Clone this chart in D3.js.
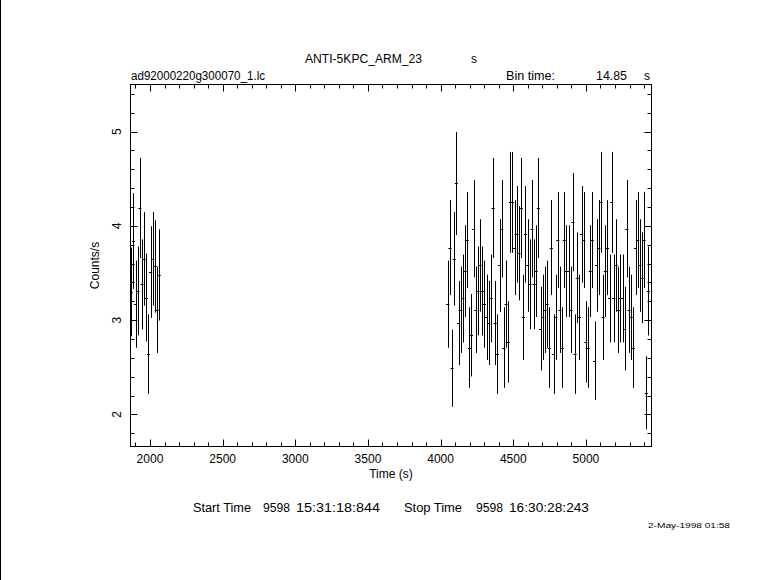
<!DOCTYPE html>
<html>
<head>
<meta charset="utf-8">
<script src="https://cdn.jsdelivr.net/npm/d3@7"></script>
<style>
  html, body { margin: 0; padding: 0; background: #fff; }
  svg { display: block; }
  text { font-family: "Liberation Sans", Arial, sans-serif; fill: #000; }
</style>
</head>
<body>
<svg id="chart" width="781" height="580"></svg>
<script>
// ---- data ----
const binTime = 14.85;
const leftTimes = [1871.0, 1885.9, 1900.7, 1915.6, 1930.4, 1945.3, 1960.1, 1975.0, 1989.8, 2004.7, 2019.5, 2034.4, 2049.2, 2064.1];
const leftRates = [3.30, 3.84, 3.17, 3.31, 4.19, 3.38, 3.65, 3.24, 2.64, 3.51, 3.65, 3.57, 3.11, 3.48];
const leftErrors = [0.471, 0.508, 0.462, 0.472, 0.531, 0.477, 0.496, 0.467, 0.422, 0.486, 0.496, 0.490, 0.458, 0.484];

const rightTimes = [4049.0, 4063.9, 4078.7, 4093.6, 4108.4, 4123.3, 4138.1, 4153.0, 4167.8, 4182.7,
  4197.5, 4212.4, 4227.2, 4242.1, 4256.9, 4271.8, 4286.6, 4301.5, 4316.3, 4331.2,
  4346.0, 4360.9, 4375.7, 4390.6, 4405.4, 4420.3, 4435.1, 4450.0, 4464.8, 4479.7,
  4494.5, 4509.4, 4524.2, 4539.1, 4553.9, 4568.8, 4583.6, 4598.5, 4613.3, 4628.2,
  4643.0, 4657.9, 4672.7, 4687.6, 4702.4, 4717.3, 4732.1, 4747.0, 4761.8, 4776.7,
  4791.5, 4806.4, 4821.2, 4836.1, 4850.9, 4865.8, 4880.6, 4895.5, 4910.3, 4925.2,
  4940.0, 4954.9, 4969.7, 4984.6, 4999.4, 5014.3, 5029.1, 5044.0, 5058.8, 5073.7,
  5088.5, 5103.4, 5118.2, 5133.1, 5147.9, 5162.8, 5177.6, 5192.5, 5207.3, 5222.2,
  5237.0, 5251.9, 5266.7, 5281.6, 5296.4, 5311.3, 5326.1, 5341.0, 5355.8, 5370.7,
  5385.5, 5400.4, 5415.2, 5430.1];
const rightRates = [3.17, 3.77, 2.49, 3.65, 4.45, 2.97, 3.11, 3.23, 3.52, 3.85,
  2.71, 2.84, 3.97, 3.11, 3.31, 3.58, 3.31, 3.17, 3.03, 2.97,
  3.23, 4.19, 2.97, 2.64, 3.58, 3.97, 2.71, 3.17, 2.77, 4.25,
  4.25, 3.77, 3.91, 3.71, 4.19, 3.03, 3.91, 3.58, 3.38, 3.97,
  3.38, 3.52, 4.19, 2.91, 3.03, 3.11, 3.17, 2.71, 3.77, 2.64,
  3.03, 3.85, 3.11, 2.71, 3.85, 3.52, 3.52, 3.11, 4.04, 2.64,
  3.45, 3.03, 3.91, 3.85, 2.77, 2.71, 3.52, 3.85, 2.57, 3.58,
  3.77, 4.25, 3.03, 3.52, 3.77, 3.23, 4.25, 3.23, 3.58, 3.11,
  3.23, 3.23, 2.91, 3.97, 3.11, 3.03, 2.71, 3.77, 3.85, 3.58,
  3.45, 3.85, 2.23, 3.31];
const rightErrors = [0.462, 0.504, 0.409, 0.496, 0.547, 0.447, 0.458, 0.466, 0.487, 0.509,
  0.427, 0.437, 0.517, 0.458, 0.472, 0.491, 0.472, 0.462, 0.452, 0.447,
  0.466, 0.531, 0.447, 0.422, 0.491, 0.517, 0.427, 0.462, 0.432, 0.535,
  0.535, 0.504, 0.513, 0.500, 0.531, 0.452, 0.513, 0.491, 0.477, 0.517,
  0.477, 0.487, 0.531, 0.443, 0.452, 0.458, 0.462, 0.427, 0.504, 0.422,
  0.452, 0.509, 0.458, 0.427, 0.509, 0.487, 0.487, 0.458, 0.522, 0.422,
  0.482, 0.452, 0.513, 0.509, 0.432, 0.427, 0.487, 0.509, 0.416, 0.491,
  0.504, 0.535, 0.452, 0.487, 0.504, 0.466, 0.535, 0.466, 0.491, 0.458,
  0.466, 0.466, 0.443, 0.517, 0.458, 0.452, 0.427, 0.504, 0.509, 0.491,
  0.482, 0.509, 0.388, 0.472];

const xDomain = [1866, 5451];
const yDomain = [1.66, 5.5];
const xMajorTicks = [2000, 2500, 3000, 3500, 4000, 4500, 5000];
const yMajorTicks = [2, 3, 4, 5];

const titleText = "ANTI-5KPC_ARM_23";
const fileText = "ad92000220g300070_1.lc";
const binLabel = "Bin time:";
const binValue = "14.85";
const xLabel = "Time (s)";
const yLabel = "Counts/s";
const footerParts = ["Start Time", "9598", "15:31:18:844", "Stop Time", "9598", "16:30:28:243"];
const dateText = "2-May-1998 01:58";

// ---- drawing ----
const svg = d3.select("#chart");
const L = 130.5, R = 651.5, T = 84.5, B = 446.5;
const x = d3.scaleLinear().domain(xDomain).range([L, R]);
const y = d3.scaleLinear().domain(yDomain).range([B, T]);

// left page border line
svg.append("line").attr("x1", 0.5).attr("x2", 0.5).attr("y1", 0).attr("y2", 580)
  .attr("stroke", "#000").attr("stroke-width", 1);

const g = svg.append("g");

// frame
g.append("rect").attr("x", L).attr("y", T).attr("width", R - L).attr("height", B - T)
  .attr("fill", "none").attr("stroke", "#000").attr("stroke-width", 1);

// ticks (inward, all four sides)
const xMinor = d3.range(1900, 5451, 100).filter(v => v % 500 !== 0);
const yMinor = d3.range(1.8, 5.5, 0.2).map(v => Math.round(v * 10) / 10).filter(v => Math.abs(v - Math.round(v)) > 1e-6);

function xTicks(vals, len) {
  vals.forEach(v => {
    const px = Math.round(x(v)) + 0.5;
    g.append("line").attr("x1", px).attr("x2", px).attr("y1", B).attr("y2", B - len).attr("stroke", "#000");
    g.append("line").attr("x1", px).attr("x2", px).attr("y1", T).attr("y2", T + len).attr("stroke", "#000");
  });
}
function yTicks(vals, len) {
  vals.forEach(v => {
    const py = Math.round(y(v)) + 0.5;
    g.append("line").attr("x1", L).attr("x2", L + len).attr("y1", py).attr("y2", py).attr("stroke", "#000");
    g.append("line").attr("x1", R).attr("x2", R - len).attr("y1", py).attr("y2", py).attr("stroke", "#000");
  });
}
xTicks(xMajorTicks, 7);
xTicks(xMinor, 4);
yTicks(yMajorTicks, 7);
yTicks(yMinor, 4);

// tick labels
g.selectAll("text.xt").data(xMajorTicks).enter().append("text")
  .attr("x", d => x(d)).attr("y", 463).attr("text-anchor", "middle")
  .attr("font-size", 12).text(d => d);
g.selectAll("text.yt").data(yMajorTicks).enter().append("text")
  .attr("transform", d => `translate(121,${y(d)}) rotate(-90)`)
  .attr("text-anchor", "middle").attr("font-size", 12).text(d => d);

// axis labels
svg.append("text").attr("x", (L + R) / 2).attr("y", 478).attr("text-anchor", "middle")
  .attr("font-size", 12).text(xLabel);
svg.append("text").attr("transform", `translate(99,${(T + B) / 2}) rotate(-90)`)
  .attr("text-anchor", "middle").attr("font-size", 12).text(yLabel);

// header texts
function txt(s, px, py, len, size) {
  const t = svg.append("text").attr("x", px).attr("y", py).attr("font-size", size || 12).text(s);
  if (len) t.attr("textLength", len).attr("lengthAdjust", "spacingAndGlyphs");
  return t;
}
txt(titleText, 305, 63, 117);
txt("s", 471, 63);
txt(fileText, 131, 80, 134);
txt(binLabel, 506, 80, 49);
txt(binValue, 596, 80, 31);
txt("s", 644, 80);

// footer texts
const footerX = [193, 263, 296, 404, 476, 509];
const footerW = [58, 27, 84, 58, 27, 80];
footerParts.forEach((s, i) => txt(s, footerX[i], 512, footerW[i]));
txt(dateText, 648, 528, 82, 8);

// data: error bars
svg.append("clipPath").attr("id", "plotclip").append("rect")
  .attr("x", L).attr("y", T).attr("width", R - L).attr("height", B - T);

const points = leftTimes.map((t, i) => ({t, v: leftRates[i], e: leftErrors[i]}))
  .concat(rightTimes.map((t, i) => ({t, v: rightRates[i], e: rightErrors[i]})));

const dg = svg.append("g").attr("clip-path", "url(#plotclip)");
const ebar = dg.selectAll("g.pt").data(points).enter().append("g");
ebar.append("line")
  .attr("x1", d => Math.round(x(d.t)) + 0.5).attr("x2", d => Math.round(x(d.t)) + 0.5)
  .attr("y1", d => y(d.v - d.e)).attr("y2", d => y(d.v + d.e))
  .attr("stroke", "#000").attr("stroke-width", 1);
ebar.append("line")
  .attr("x1", d => x(d.t - binTime / 2) - 0.5).attr("x2", d => x(d.t + binTime / 2) + 0.5)
  .attr("y1", d => Math.round(y(d.v)) + 0.5).attr("y2", d => Math.round(y(d.v)) + 0.5)
  .attr("stroke", "#000").attr("stroke-width", 1);
</script>
</body>
</html>
